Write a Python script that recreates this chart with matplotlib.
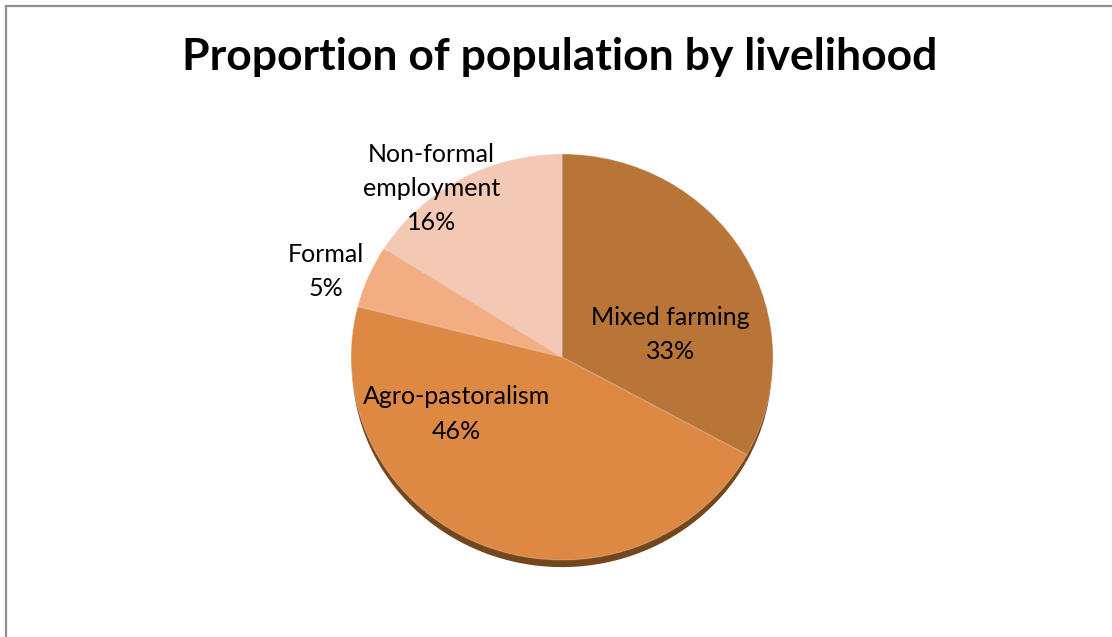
import matplotlib.pyplot as plt
from matplotlib.lines import Line2D

# Livelihood shares (percent), clockwise from 12 o'clock
livelihoods = ['Mixed farming', 'Agro-pastoralism', 'Formal', 'Non-formal\nemployment']
shares = [33, 46, 5, 16]
colors = ['#B97537', '#DD8944', '#F2AE82', '#F3C8B5']

# label anchor points in pie units (x, y)
label_pos = [(0.515, 0.11), (-0.50, -0.28), (-1.12, 0.42), (-0.62, 0.83)]

W, H = 1112, 637
fig = plt.figure(figsize=(W / 100, H / 100), dpi=100)
fig.patch.set_facecolor('white')

# chart frame (only left and top edges visible)
fig.add_artist(Line2D([6 / W, 6 / W], [0, 1 - 6 / H], color='#8f8f8f', lw=1.6))
fig.add_artist(Line2D([6 / W, 1], [1 - 6 / H, 1 - 6 / H], color='#8f8f8f', lw=1.6))

fig.text(560 / W, 1 - 57 / H, 'Proportion of population by livelihood',
         ha='center', va='center', fontsize=32, fontweight='bold',
         family=['Lato', 'DejaVu Sans'])

# pie axes placed in pixel box
cx, cy, rx, ry = 562, 357, 211, 203
ax = fig.add_axes([(cx - rx) / W, 1 - (cy + ry) / H, 2 * rx / W, 2 * ry / H])

# shadow underneath
ax.pie(shares, colors=['#74461c'] * 4, startangle=90, counterclock=False,
       center=(0, -0.04), radius=0.995, wedgeprops=dict(linewidth=0))
ax.pie(shares, colors=colors, startangle=90, counterclock=False,
       radius=1.0, wedgeprops=dict(linewidth=0.8, edgecolor=(1, 1, 1, 0.25)))
ax.set_aspect('auto')
ax.set_xlim(-1, 1)
ax.set_ylim(-1, 1)
ax.axis('off')

for name, val, (x, y) in zip(livelihoods, shares, label_pos):
    ax.text(x, y, f'{name}\n{val}%', ha='center', va='center', fontsize=18,
            linespacing=1.6, family=['Lato', 'DejaVu Sans'], clip_on=False)

fig.savefig('out.png', dpi=100)
